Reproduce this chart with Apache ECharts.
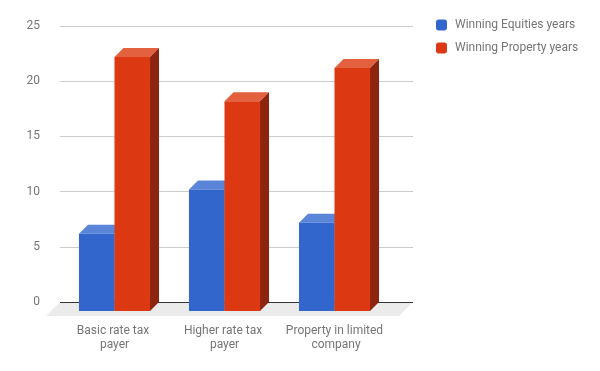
<!DOCTYPE html>
<html>
<head>
<meta charset="utf-8">
<script src="https://cdn.jsdelivr.net/npm/echarts@6/dist/echarts.min.js"></script>
<style>html,body{margin:0;padding:0;background:#fff}#c{width:600px;height:371px}</style>
</head>
<body>
<div id="c"></div>
<script>
const categories = ['Basic rate tax payer', 'Higher rate tax payer', 'Property in limited company'];
const seriesNames = ['Winning Equities years', 'Winning Property years'];
const equities = [7, 11, 8];
const property = [23, 19, 22];
const yTicks = [0, 5, 10, 15, 20, 25];

const FONT = 'Roboto, "Noto Sans", sans-serif';
const DEPTH = 9;
const FLOOR = 14;
const colors = [
  { front: '#3366cc', top: '#5b85d8', side: '#254d9c' },
  { front: '#dc3912', top: '#e3613f', side: '#8d2410' }
];

function barRender(sIdx) {
  return function (params, api) {
    const cat = api.value(0), v = api.value(1);
    const top = api.coord([cat, v]);
    const base = api.coord([cat, 0]);
    const band = api.size([1, 0])[0];
    const w = band * 0.323;
    const x0 = sIdx === 0 ? top[0] - w : top[0];
    const x1 = x0 + w;
    const yf = top[1] + DEPTH;
    const yb = base[1] + DEPTH;
    const c = colors[sIdx];
    return {
      type: 'group',
      children: [
        { type: 'polygon', shape: { points: [[x0, yf], [x1, yf], [x1 + DEPTH, yf - DEPTH], [x0 + DEPTH, yf - DEPTH]] }, style: { fill: c.top } },
        { type: 'polygon', shape: { points: [[x1, yf], [x1 + DEPTH, yf - DEPTH], [x1 + DEPTH, yb - DEPTH], [x1, yb]] }, style: { fill: c.side } },
        { type: 'rect', shape: { x: x0, y: yf, width: w, height: yb - yf }, style: { fill: c.front } }
      ]
    };
  };
}

function floorRender(params, api) {
  const cs = params.coordSys;
  const yb = cs.y + cs.height;
  const xl = cs.x, xr = cs.x + cs.width;
  return {
    type: 'group',
    children: [
      { type: 'polygon', shape: { points: [[xl, yb], [xr, yb], [xr - FLOOR, yb + FLOOR], [xl - FLOOR, yb + FLOOR]] }, style: { fill: '#ebebeb' } },
      { type: 'line', shape: { x1: xl, y1: yb + 0.5, x2: xr, y2: yb + 0.5 }, style: { stroke: '#333', lineWidth: 1 } }
    ]
  };
}

const chart = echarts.init(document.getElementById('c'), null, { renderer: 'canvas' });
const yMin = yTicks[0], yMax = yTicks[yTicks.length - 1], yInt = yTicks[1] - yTicks[0];

chart.setOption({
  backgroundColor: '#fff',
  animation: false,
  textStyle: { fontFamily: FONT },
  legend: {
    orient: 'vertical', left: 436, top: 19, padding: 0, itemWidth: 11, itemHeight: 11, itemGap: 11,
    icon: 'roundRect',
    data: seriesNames,
    textStyle: { color: '#757575', fontSize: 12, fontFamily: FONT, padding: [0, 0, 0, 3] }
  },
  grid: [
    { left: 60, right: 187, top: 26, bottom: 69 },
    { left: 59.5, width: 330, top: 26, bottom: 69 }
  ],
  xAxis: [
    { gridIndex: 0, type: 'value', min: 0, max: 1, show: false },
    {
      gridIndex: 1, type: 'category', data: categories,
      axisLine: { show: false }, axisTick: { show: false },
      axisLabel: { color: '#757575', fontSize: 12, fontFamily: FONT, margin: 22, lineHeight: 14, width: 100, overflow: 'break', interval: 0 }
    }
  ],
  yAxis: [
    {
      gridIndex: 0, type: 'value', min: yMin, max: yMax, interval: yInt,
      axisLine: { show: false }, axisTick: { show: false },
      axisLabel: { color: '#757575', fontSize: 12, fontFamily: FONT, margin: 20 },
      splitLine: { lineStyle: { color: '#cccccc', width: 1 } }
    },
    { gridIndex: 1, type: 'value', min: yMin, max: yMax, interval: yInt, show: false }
  ],
  series: [
    { type: 'custom', name: 'floor', xAxisIndex: 0, yAxisIndex: 0, data: [[0, 0]], renderItem: floorRender, z: 1, silent: true },
    {
      type: 'custom', name: seriesNames[0], xAxisIndex: 1, yAxisIndex: 1, z: 3,
      itemStyle: { color: colors[0].front },
      data: equities.map((v, i) => [i, v]), renderItem: barRender(0)
    },
    {
      type: 'custom', name: seriesNames[1], xAxisIndex: 1, yAxisIndex: 1, z: 4,
      itemStyle: { color: colors[1].front },
      data: property.map((v, i) => [i, v]), renderItem: barRender(1)
    }
  ]
});
</script>
</body>
</html>
